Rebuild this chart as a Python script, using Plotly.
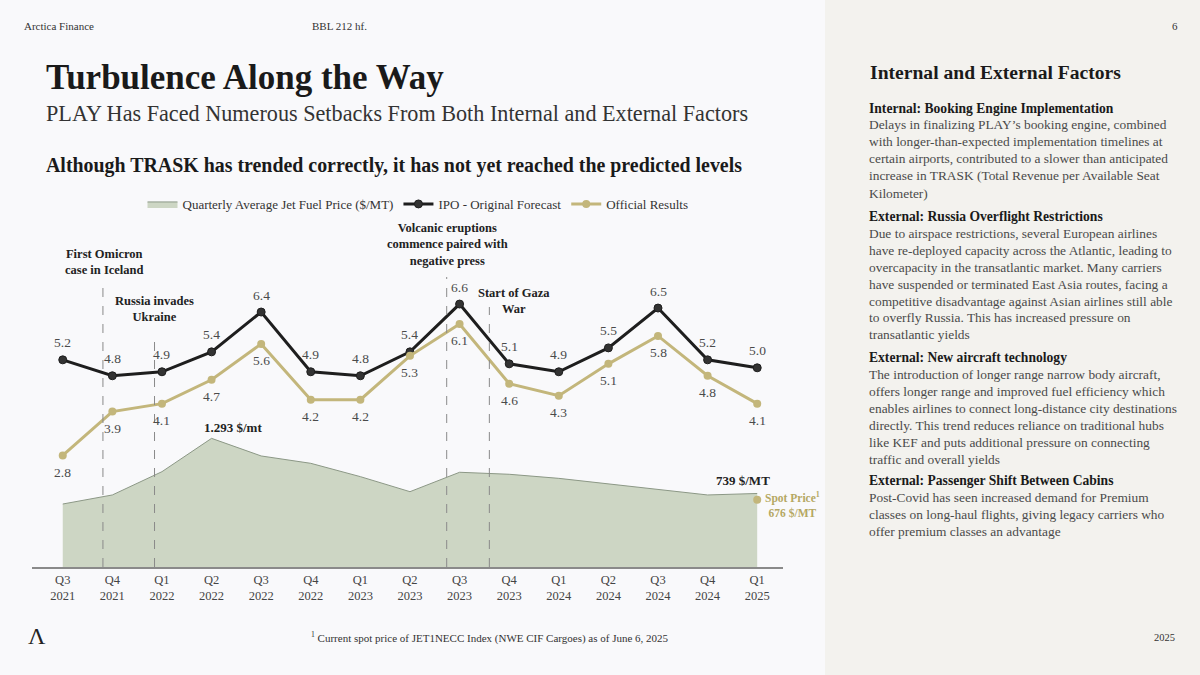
import plotly.graph_objects as go

W, H = 1200, 675

def X(px):
    return px / W

def Y(py):
    return 1 - py / H

# ---------------- data ----------------
quarters = ["Q3<br>2021", "Q4<br>2021", "Q1<br>2022", "Q2<br>2022", "Q3<br>2022",
            "Q4<br>2022", "Q1<br>2023", "Q2<br>2023", "Q3<br>2023", "Q4<br>2023",
            "Q1<br>2024", "Q2<br>2024", "Q3<br>2024", "Q4<br>2024", "Q1<br>2025"]
ipo_forecast = [5.2, 4.8, 4.9, 5.4, 6.4, 4.9, 4.8, 5.4, 6.6, 5.1, 4.9, 5.5, 6.5, 5.2, 5.0]
official = [2.8, 3.9, 4.1, 4.7, 5.6, 4.2, 4.2, 5.3, 6.1, 4.6, 4.3, 5.1, 5.8, 4.8, 4.1]
jet_fuel = [633, 724, 958, 1293, 1116, 1042, 908, 757, 952, 932, 891, 834, 781, 724, 739]
spot_price = 676
fuel_peak_label = "1.293 $/mt"
fuel_last_label = "739 $/MT"

# events: (label lines, position on category axis)
events = [
    ("First Omicron<br>case in Iceland", 0.81),
    ("Russia invades<br>Ukraine", 1.85),
    ("Volcanic eruptions<br>commence paired with<br>negative press", 7.74),
    ("Start of Gaza<br>War", 8.6),
]

SERIF = "Liberation Serif"
GOLD = "#c3b67b"
BLACK = "#1e1e1e"
AREA = "#cdd6c4"
LABEL = "#4a4a4a"

fig = go.Figure()

fig.add_trace(go.Scatter(
    x=quarters, y=jet_fuel, yaxis="y2", mode="lines", fill="tozeroy",
    fillcolor=AREA, line=dict(color="#8c9886", width=1),
    name="Quarterly Average Jet Fuel Price ($/MT)", hoverinfo="skip"))

fig.add_trace(go.Scatter(
    x=quarters, y=ipo_forecast, mode="lines+markers",
    line=dict(color=BLACK, width=3),
    marker=dict(color="#333333", size=8, line=dict(color=BLACK, width=1)),
    name="IPO - Original Forecast"))

fig.add_trace(go.Scatter(
    x=quarters, y=official, mode="lines+markers",
    line=dict(color=GOLD, width=3),
    marker=dict(color=GOLD, size=8),
    name="Official Results"))

fig.add_trace(go.Scatter(
    x=[quarters[-1]], y=[spot_price], yaxis="y2", mode="markers",
    marker=dict(color=GOLD, size=8), showlegend=False, hoverinfo="skip"))

shapes = [
    dict(type="rect", xref="paper", yref="paper", x0=X(825), x1=1, y0=0, y1=1,
         fillcolor="#f3f2ee", line=dict(width=0), layer="below"),
]
event_tops = [287, 338, 277, 307]
for (lbl, pos), top in zip(events, event_tops):
    shapes.append(dict(type="line", xref="x", yref="paper", x0=pos, x1=pos,
                       y0=Y(567), y1=Y(top),
                       line=dict(color="#8a8a8a", width=1, dash="dash")))

annotations = []

# data labels (positioned through the axes)
for q, v in zip(quarters, ipo_forecast):
    annotations.append(dict(text=f"{v:.1f}", x=q, y=v, xref="x", yref="y",
                            showarrow=False, yshift=17, xanchor="center", yanchor="middle",
                            font=dict(family=SERIF, size=13.5, color=LABEL)))
for q, v in zip(quarters, official):
    annotations.append(dict(text=f"{v:.1f}", x=q, y=v, xref="x", yref="y",
                            showarrow=False, yshift=-17, xanchor="center", yanchor="middle",
                            font=dict(family=SERIF, size=13.5, color=LABEL)))

def ann(text, x, y, size, color="#222222", bold=False, xanchor="left",
        yanchor="middle", align="left"):
    if bold:
        text = f"<b>{text}</b>"
    annotations.append(dict(text=text, x=X(x), y=Y(y), xref="paper", yref="paper",
                            showarrow=False, xanchor=xanchor, yanchor=yanchor,
                            align=align,
                            font=dict(family=SERIF, size=size, color=color)))

# header
ann("Arctica Finance", 22, 26, 11, "#333333")
ann("BBL 212 hf.", 310, 26, 11, "#333333")
ann("6", 1170, 26, 11, "#333333")

# titles
ann("Turbulence Along the Way", 44, 78, 35, "#1a1a1a", bold=True)
ann("PLAY Has Faced Numerous Setbacks From Both Internal and External Factors",
    44, 113, 22.2, "#333333")
ann("Although TRASK has trended correctly, it has not yet reached the predicted levels",
    44, 166, 19.9, "#1a1a1a", bold=True)

# event labels
ann(events[0][0], 104, 262, 12.5, "#222222", bold=True, xanchor="center", align="center")
ann(events[1][0], 154, 309, 12.5, "#222222", bold=True, xanchor="center", align="center")
ann(events[2][0], 447, 245, 12.5, "#222222", bold=True, xanchor="center", align="center")
ann(events[3][0], 514, 301, 12.5, "#222222", bold=True, xanchor="center", align="center")

# fuel labels
annotations.append(dict(text=f"<b>{fuel_peak_label}</b>", x=quarters[3], y=jet_fuel[3],
                        xref="x", yref="y2", showarrow=False, xanchor="center",
                        yanchor="bottom", xshift=21, yshift=1,
                        font=dict(family=SERIF, size=13, color="#222222")))
annotations.append(dict(text=f"<b>{fuel_last_label}</b>", x=quarters[-1], y=jet_fuel[-1],
                        xref="x", yref="y2", showarrow=False, xanchor="center",
                        yanchor="bottom", xshift=-14, yshift=3,
                        font=dict(family=SERIF, size=13, color="#222222")))
annotations.append(dict(text=f"<b>Spot Price<sup>1</sup><br>{spot_price} $/MT</b>",
                        x=quarters[-1], y=Y(504), xref="x", yref="paper",
                        showarrow=False, xanchor="center", yanchor="middle",
                        xshift=35, align="center",
                        font=dict(family=SERIF, size=11.5, color="#b5a863")))

# footer
ann("Λ", 26, 636, 24, "#222222")
ann("<sup>1</sup> Current spot price of JET1NECC Index (NWE CIF Cargoes) as of June 6, 2025",
    490, 637, 11, "#333333", xanchor="center")
ann("2025", 1152, 637, 10.5, "#333333")

# right panel
ann("Internal and External Factors", 868, 73, 19.6, "#1a1a1a", bold=True)
panel = [
    ("h", "Internal: Booking Engine Implementation", 108),
    ("b", "Delays in finalizing PLAY’s booking engine, combined", 125),
    ("b", "with longer-than-expected implementation timelines at", 142),
    ("b", "certain airports, contributed to a slower than anticipated", 159),
    ("b", "increase in TRASK (Total Revenue per Available Seat", 176),
    ("b", "Kilometer)", 194),
    ("h", "External: Russia Overflight Restrictions", 216),
    ("b", "Due to airspace restrictions, several European airlines", 233),
    ("b", "have re-deployed capacity across the Atlantic, leading to", 250),
    ("b", "overcapacity in the transatlantic market. Many carriers", 267),
    ("b", "have suspended or terminated East Asia routes, facing a", 284),
    ("b", "competitive disadvantage against Asian airlines still able", 301),
    ("b", "to overfly Russia. This has increased pressure on", 318),
    ("b", "transatlantic yields", 335),
    ("h", "External: New aircraft technology", 357),
    ("b", "The introduction of longer range narrow body aircraft,", 374),
    ("b", "offers longer range and improved fuel efficiency which", 391),
    ("b", "enables airlines to connect long-distance city destinations", 408),
    ("b", "directly. This trend reduces reliance on traditional hubs", 425),
    ("b", "like KEF and puts additional pressure on connecting", 442),
    ("b", "traffic and overall yields", 459),
    ("h", "External: Passenger Shift Between Cabins", 480),
    ("b", "Post-Covid has seen increased demand for Premium", 497),
    ("b", "classes on long-haul flights, giving legacy carriers who", 514),
    ("b", "offer premium classes an advantage", 531),
]
for kind, txt, yy in panel:
    if kind == "h":
        ann(txt, 867, yy, 13.6, "#1a1a1a", bold=True)
    else:
        ann(txt, 867, yy, 13.4, "#4a4a4a")

fig.update_layout(
    width=W, height=H,
    margin=dict(l=0, r=0, t=0, b=0),
    paper_bgcolor="#f9f9fb", plot_bgcolor="rgba(0,0,0,0)",
    font=dict(family=SERIF, color="#333333"),
    showlegend=True,
    legend=dict(orientation="h", x=X(418), y=Y(204), xanchor="center", yanchor="middle",
                font=dict(family=SERIF, size=13, color="#333333"),
                bgcolor="rgba(0,0,0,0)", itemwidth=30, traceorder="normal"),
    xaxis=dict(domain=[X(32), X(783)], range=[-0.62, 14.52], type="category",
               showgrid=False, zeroline=False, showline=True, linecolor="#8a8a8a",
               linewidth=1.5, ticks="", tickfont=dict(family=SERIF, size=12.5, color="#444444"),
               anchor="y"),
    yaxis=dict(domain=[Y(567), Y(220)], range=[0, (567 - 220) / 39.84], visible=False,
               showgrid=False, zeroline=False),
    yaxis2=dict(domain=[Y(567), Y(220)], range=[0, (567 - 220) / 0.0995], overlaying="y",
                visible=False, showgrid=False, zeroline=False),
    shapes=shapes,
    annotations=annotations,
)

fig.write_html("out.html",
               config={"displayModeBar": False},
               post_script="document.body.style.margin='0';document.body.style.padding='0';"
                           "document.documentElement.style.overflow='hidden';")
